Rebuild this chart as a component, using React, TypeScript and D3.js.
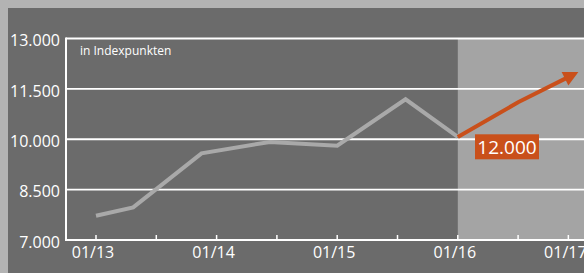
import React from "react";
import * as d3 from "d3";

const W = 584;
const H = 273;

// months since 01/2013
const histMonths = [0, 3.7, 10.5, 17.3, 24, 30.8, 36];
const histValues = [7720, 7970, 9580, 9920, 9810, 11190, 10070];
const fcMonths = [36, 42, 48];
const fcValues = [10070, 11100, 12000];
const yTicks = [7000, 8500, 10000, 11500, 13000];
const xTickMonths = [0, 6, 12, 18, 24, 30, 36, 42, 47];
const xLabelMonths = [0, 12, 24, 36, 47];
const xLabels = ["01/13", "01/14", "01/15", "01/16", "01/17"];
const forecastStart = 36;
const forecastLabel = "12.000";
const unitLabel = "in Indexpunkten";

const fmt = (v: number) => d3.format(",")(v).replace(/,/g, ".");

export default function App() {
  const x = d3.scaleLinear().domain([0, 48]).range([96, 578.4]);
  const y = d3.scaleLinear().domain([7000, 13000]).range([240, 38.5]);
  const left = 66;
  const right = W;

  const line = d3
    .line<number>()
    .x((_, i) => x(histMonths[i]))
    .y((d) => y(d));
  const fcLine = d3
    .line<number>()
    .x((_, i) => x(fcMonths[i]))
    .y((d) => y(d));

  // arrowhead geometry from last forecast segment
  const n = fcMonths.length;
  const x1 = x(fcMonths[n - 2]), y1 = y(fcValues[n - 2]);
  const x2 = x(fcMonths[n - 1]), y2 = y(fcValues[n - 1]);
  const ang = Math.atan2(y2 - y1, x2 - x1);
  const aLen = 15, aHalf = 7.5;
  const bx = x2 - aLen * Math.cos(ang), by = y2 - aLen * Math.sin(ang);
  const px = -Math.sin(ang), py = Math.cos(ang);
  const arrow = `M${x2},${y2}L${bx + px * aHalf},${by + py * aHalf}L${bx - px * aHalf},${by - py * aHalf}Z`;
  const fcDrawVals = fcValues.slice();
  const fcPath = d3
    .line<[number, number]>()
    .x((d) => d[0])
    .y((d) => d[1])([
    ...fcMonths.slice(0, n - 1).map((m, i) => [x(m), y(fcDrawVals[i])] as [number, number]),
    [bx + 2 * Math.cos(ang), by + 2 * Math.sin(ang)],
  ]);

  const font = "'Open Sans', 'Noto Sans', sans-serif";
  const orange = "#c9501b";

  return (
    <svg
      width={W}
      height={H}
      style={{ position: "absolute", left: 0, top: 0, display: "block" }}
    >
      <rect x={0} y={0} width={W} height={H} fill="#b3b3b3" />
      <rect x={8} y={8} width={W - 8} height={H - 8} fill="#6b6b6b" />
      <rect
        x={x(forecastStart)}
        y={y(13000)}
        width={right - x(forecastStart)}
        height={y(7000) - y(13000)}
        fill="#a4a4a4"
      />
      {yTicks.map((t) => (
        <g key={t}>
          {t !== 7000 && (
            <line x1={left} x2={right} y1={y(t)} y2={y(t)} stroke="#ffffff" strokeWidth={1.8} />
          )}
          <text
            x={60}
            y={y(t) + 7.8}
            textAnchor="end"
            fill="#ffffff"
            fontSize={16}
            fontFamily={font}
          >
            {fmt(t)}
          </text>
        </g>
      ))}
      <path
        d={line(histValues) || ""}
        fill="none"
        stroke="#a9a9a9"
        strokeWidth={4}
        strokeLinejoin="miter"
      />
      <path d={fcPath || ""} fill="none" stroke={orange} strokeWidth={4} />
      <path d={arrow} fill={orange} />
      {/* axes */}
      <line x1={left} x2={left} y1={y(13000) - 0.9} y2={y(7000) + 1} stroke="#fff" strokeWidth={2} />
      <line x1={left} x2={right} y1={y(7000)} y2={y(7000)} stroke="#fff" strokeWidth={2} />
      {xTickMonths.map((m) => (
        <line key={m} x1={x(m)} x2={x(m)} y1={y(7000)} y2={y(7000) - 5} stroke="#fff" strokeWidth={1.5} />
      ))}
      {xLabelMonths.map((m, i) => (
        <text
          key={m}
          x={x(m) - 3}
          y={257.5}
          textAnchor="middle"
          fill="#ffffff"
          fontSize={16}
          fontFamily={font}
        >
          {xLabels[i]}
        </text>
      ))}
      <text x={80} y={55} fill="#ffffff" fontSize={12} fontFamily={font}>
        {unitLabel}
      </text>
      <rect x={475} y={134.3} width={64} height={25} fill={orange} />
      <text
        x={507}
        y={154}
        textAnchor="middle"
        fill="#ffffff"
        fontSize={19}
        fontFamily={font}
      >
        {forecastLabel}
      </text>
    </svg>
  );
}
